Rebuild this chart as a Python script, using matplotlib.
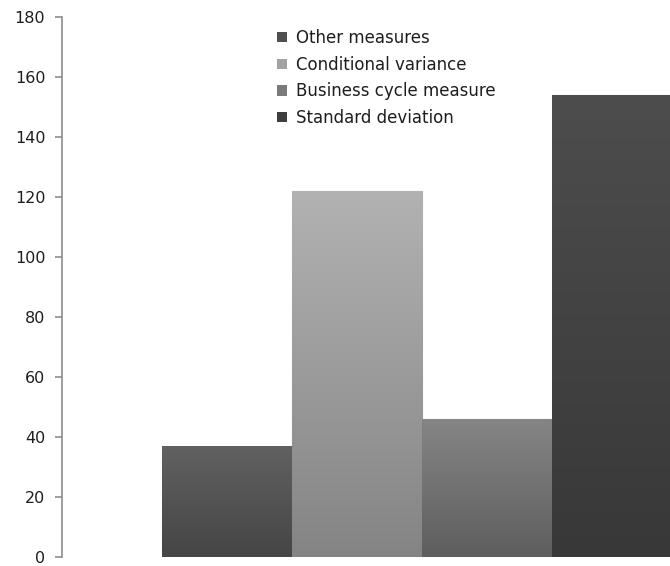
import numpy as np
import matplotlib.pyplot as plt
from matplotlib.colors import LinearSegmentedColormap
from matplotlib.patches import Patch

# Number of studies by volatility measure
measures = ['Other measures', 'Conditional variance', 'Business cycle measure', 'Standard deviation']
counts = [37, 122, 46, 154]
yticks = [0, 20, 40, 60, 80, 100, 120, 140, 160, 180]

# top / bottom shade of each bar (light at top, darker at base)
top_colors = ['#616161', '#b2b2b2', '#858585', '#4d4d4d']
bottom_colors = ['#454545', '#848484', '#5e5e5e', '#383838']
legend_colors = ['#4f4f4f', '#a2a2a2', '#7a7a7a', '#3e3e3e']

W, H = 670, 566
fig = plt.figure(figsize=(W / 100, H / 100), dpi=100)
# plot area runs past the right edge of the figure
ax = fig.add_axes([62 / W, (H - 557) / H, 720 / W, 540 / H])

x = np.arange(len(counts))
bars = ax.bar(x, counts, width=1.0, color='none', edgecolor='none')

grad = np.linspace(0, 1, 256).reshape(-1, 1)
for b, c_top, c_bot in zip(bars, top_colors, bottom_colors):
    cmap = LinearSegmentedColormap.from_list('g', [c_bot, c_top])
    x0, x1 = b.get_x(), b.get_x() + b.get_width()
    ax.imshow(grad, cmap=cmap, origin='lower', aspect='auto',
              extent=(x0, x1, 0, b.get_height()), zorder=2)
    # faint edge shadow
    ax.add_patch(plt.Rectangle((x0, 0), x1 - x0, b.get_height(), fill=False,
                               edgecolor='#c8c8c8', linewidth=0.8, zorder=1))

ax.set_xlim(-1.269, 4.269)
ax.set_ylim(0, 180)
ax.set_yticks(yticks)
ax.set_xticks([])

for side in ['top', 'right', 'bottom']:
    ax.spines[side].set_visible(False)
ax.spines['left'].set_color('#8c8c8c')
ax.spines['left'].set_linewidth(1.2)
ax.tick_params(axis='y', direction='out', length=5, width=1.2, color='#8c8c8c',
               labelsize=11.5, labelcolor='#1e1e1e', pad=7)
for lab in ax.get_yticklabels():
    lab.set_family('DejaVu Sans')

handles = [Patch(facecolor=c, edgecolor='none') for c in legend_colors]
fig.legend(handles, measures, loc='upper left',
           bbox_to_anchor=(277 / W, (H - 29) / H), frameon=False,
           prop={'family': 'DejaVu Sans', 'size': 12},
           handlelength=0.6, handleheight=0.6, handletextpad=0.55,
           labelspacing=0.52, labelcolor='#1e1e1e', borderpad=0, borderaxespad=0)

fig.savefig('out.png', dpi=100)
